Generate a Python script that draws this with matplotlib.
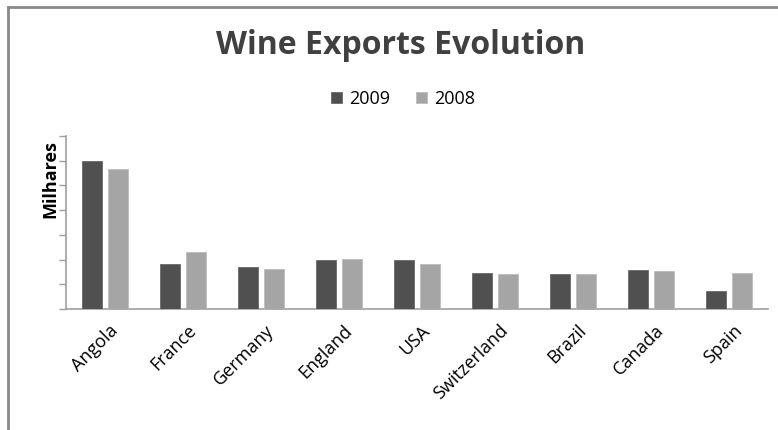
import numpy as np
import matplotlib.pyplot as plt
from matplotlib.lines import Line2D

# ── Data (units = y-axis ticks) ──────────────────────────────────────────────
countries = ["Angola", "France", "Germany", "England", "USA",
             "Switzerland", "Brazil", "Canada", "Spain"]
exports_2009 = [5.97, 1.83, 1.71, 1.99, 1.99, 1.45, 1.43, 1.58, 0.73]
exports_2008 = [5.65, 2.32, 1.63, 2.03, 1.83, 1.42, 1.41, 1.54, 1.47]

# ── Figure ────────────────────────────────────────────────────────────────────
plt.rcParams['font.family'] = ['Open Sans', 'DejaVu Sans']
fig = plt.figure(figsize=(7.78, 4.3), dpi=100)
ax = fig.add_axes([66 / 778, 1 - 309 / 430, 702 / 778, 173 / 430])

x = np.arange(len(countries))
w = 0.257
off = 0.167
ax.bar(x - off, exports_2009, w, color="#505050", edgecolor="#6a6a6a",
       linewidth=0.6, label="2009", zorder=3)
ax.bar(x + off, exports_2008, w, color="#a5a5a5", edgecolor="#bcbcbc",
       linewidth=0.6, label="2008", zorder=3)

ax.set_xlim(-0.5, len(countries) - 0.5)
ax.set_ylim(0, 7)
ax.set_yticks(np.arange(0, 8))
ax.set_yticklabels([])
ax.tick_params(axis='y', direction='out', length=5, color="#a0a0a0", width=1)
ax.tick_params(axis='x', length=0, pad=9)
ax.set_xticks(x + 0.05)
ax.set_xticklabels(countries, rotation=45, ha='right', rotation_mode='anchor',
                   fontsize=13, color="#000000")

for s in ["top", "right"]:
    ax.spines[s].set_visible(False)
for s in ["left", "bottom"]:
    ax.spines[s].set_color("#a0a0a0")
    ax.spines[s].set_linewidth(1.2)

ax.set_ylabel("Milhares", fontsize=13, fontweight='bold', color="#000000")
ax.yaxis.set_label_coords(-0.010, 0.75)

# title + legend
fig.text(0.515, 1 - 45 / 430, "Wine Exports Evolution", ha='center',
         va='center', fontsize=23, fontweight='bold', color="#404040")
ax.legend(loc='center', bbox_to_anchor=(403 / 778, 1 - 99 / 430),
          bbox_transform=fig.transFigure, ncol=2, frameon=False,
          fontsize=13, handlelength=0.6, handleheight=0.6,
          handletextpad=0.4, columnspacing=1.4)

# outer chart border (top and left)
fig.add_artist(Line2D([8 / 778, 1], [1 - 7 / 430, 1 - 7 / 430],
                      transform=fig.transFigure, color="#8a8a8a", lw=2))
fig.add_artist(Line2D([8 / 778, 8 / 778], [0, 1 - 7 / 430],
                      transform=fig.transFigure, color="#8a8a8a", lw=2))

fig.savefig("out.png", dpi=100)
